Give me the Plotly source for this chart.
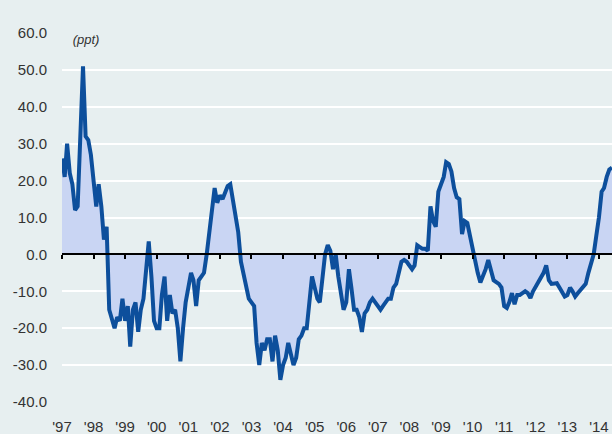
import pandas as pd
import plotly.graph_objects as go

start_month = "1997-01-01"
values = [
    26, 21, 30, 22, 19, 12, 13, 33, 51, 32, 31, 27,
    21, 13, 19, 13, 4, 7.5, -15, -18, -20, -17, -18, -12,
    -18, -14, -25, -15, -13, -21, -15, -12, -3, 3.5, -6, -18,
    -20, -20, -11, -6, -18, -11, -16, -15, -20, -29, -20, -13,
    -9, -5, -7, -14, -7, -6, -5, 0, 6, 12, 18, 14,
    16, 15, 17, 18.5, 19, 14, 11, 6, -2, -5, -9, -12,
    -13, -14, -24, -30, -24, -26, -23, -23, -29, -22, -26, -34,
    -30, -28, -24, -27, -30, -28, -23, -22, -20, -20, -12, -6,
    -9, -12, -13, -6, 0, 2.5, 1, -4, 0, -6, -11, -15,
    -13, -4, -9, -15, -15, -17, -21, -16, -15, -13, -12, -13,
    -14, -15, -14, -13, -12, -12, -9, -8, -5, -2, -1.5, -2,
    -3, -4, -3, 2.5, 2, 1.5, 1.5, 1, 13, 9, 7.5, 17,
    19, 21, 25, 24.5, 22.5, 18, 15.5, 15, 5.5, 9, 8.5, 5,
    1.5, -1, -5, -7.6, -6, -4, -1.5, -4, -7, -7.5, -8, -9,
    -14, -14.5, -13, -10.5, -13.5, -11, -11, -10.5, -10, -10.5, -11.8, -10,
    -8.7, -7.5, -6, -5, -3, -7, -8, -8, -7.8, -9, -10.5, -11.4,
    -11, -9, -10, -11.4, -10.5, -9.5, -8.7, -8, -5, -2.5, 0, 5,
    10, 17, 18, 21, 23, 23.5,
]
dates = pd.date_range(start_month, periods=len(values), freq="MS")

y_tickvals = [60, 50, 40, 30, 20, 10, 0, -10, -20, -30, -40]
y_ticktext = ["60.0", "50.0", "40.0", "30.0", "20.0", "10.0", "0.0",
              "-10.0", "-20.0", "-30.0", "-40.0"]
unit_label = "(ppt)"

BG = "#e7eff0"
LINE = "#0d4f9c"
FILL = "#c9d5f3"
TXT = "#333333"
FONT = "Liberation Sans, Arial, sans-serif"

fig = go.Figure()
fig.add_trace(go.Scatter(
    x=dates, y=values, mode="lines", fill="tozeroy", fillcolor=FILL,
    line=dict(color=LINE, width=4), hoverinfo="skip", showlegend=False,
))
fig.add_trace(go.Scatter(
    x=dates, y=values, mode="lines", xaxis="x2",
    line=dict(width=0, color="rgba(0,0,0,0)"), hoverinfo="skip", showlegend=False,
))

fig.update_layout(
    width=612, height=434,
    margin=dict(l=62, r=0, t=33, b=32),
    paper_bgcolor=BG, plot_bgcolor=BG,
    font=dict(family=FONT, size=15, color=TXT),
    xaxis=dict(
        type="date", range=[dates[0], dates[-1]], automargin=False,
        tick0="1997-01-01", dtick="M12", tickformat="'%y",
        showgrid=False, zeroline=False, showline=False,
        ticks="outside", ticklen=11, tickcolor="rgba(0,0,0,0)",
        tickfont=dict(size=15, color=TXT),
    ),
    xaxis2=dict(
        type="date", overlaying="x", matches="x", anchor="free", position=0.4,
        tick0="1997-01-01", dtick="M12", automargin=False,
        showline=True, linecolor="#000000", linewidth=1.5,
        ticks="outside", ticklen=4, tickwidth=1.5, tickcolor="#000000",
        showticklabels=False, showgrid=False, zeroline=False,
    ),
    yaxis=dict(
        range=[-40, 60], tickvals=y_tickvals, ticktext=y_ticktext,
        automargin=False,
        showgrid=True, gridcolor="#ffffff", gridwidth=2,
        zeroline=False, showline=False, ticks="",
        ticklabelstandoff=14, tickfont=dict(size=15, color=TXT),
    ),
    annotations=[dict(
        xref="paper", yref="y", x=0, y=60, xanchor="left", yanchor="top",
        yshift=4, text="<i>" + unit_label + "</i>", showarrow=False,
        font=dict(size=13, color=TXT, family=FONT),
        bgcolor=BG, borderpad=2, width=42, align="center",
    )],
)

fig.write_html(
    "out.html",
    config={"displayModeBar": False},
    post_script="document.body.style.margin='0';document.body.style.overflow='hidden';",
)
